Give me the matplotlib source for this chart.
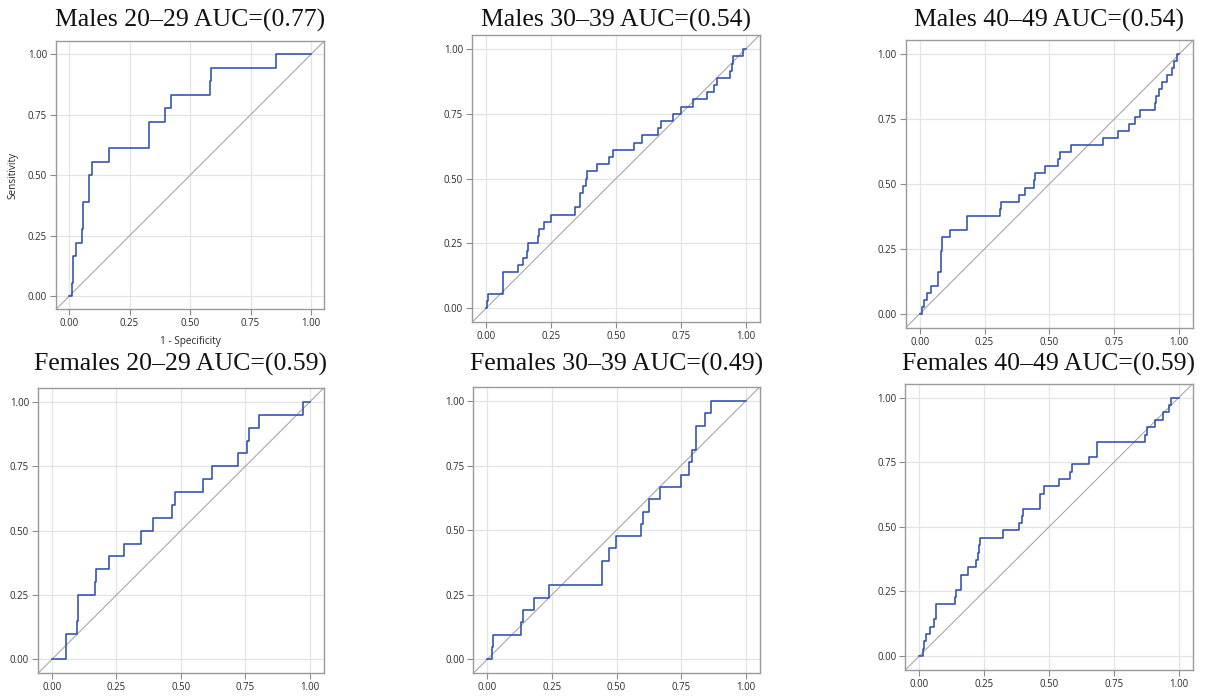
import matplotlib
matplotlib.use("Agg")
import matplotlib.pyplot as plt

# ---------------- data (ROC operating points: 1-specificity, sensitivity) -------------
titles = ["Males 20–29 AUC=(0.77)", "Males 30–39 AUC=(0.54)", "Males 40–49 AUC=(0.54)",
          "Females 20–29 AUC=(0.59)", "Females 30–39 AUC=(0.49)", "Females 40–49 AUC=(0.59)"]

fpr_m2029 = [0, 0.011, 0.017, 0.029, 0.052, 0.058, 0.084, 0.094, 0.165, 0.329, 0.398,
             0.421, 0.581, 0.587, 0.855, 1.0]
tpr_m2029 = [0, 0.056, 0.167, 0.222, 0.278, 0.389, 0.500, 0.556, 0.611, 0.722, 0.778,
             0.833, 0.889, 0.944, 1.0, 1.0]

fpr_m3039 = [0, 0.003, 0.006, 0.067, 0.125, 0.141, 0.157, 0.160, 0.200, 0.205, 0.223,
             0.250, 0.344, 0.363, 0.375, 0.385, 0.390, 0.426, 0.475, 0.488, 0.571,
             0.600, 0.661, 0.673, 0.719, 0.751, 0.796, 0.850, 0.878, 0.888, 0.940,
             0.946, 0.952, 0.991, 1.0]
tpr_m3039 = [0, 0.028, 0.056, 0.139, 0.167, 0.194, 0.222, 0.250, 0.278, 0.306, 0.333,
             0.361, 0.389, 0.444, 0.472, 0.500, 0.528, 0.556, 0.583, 0.611, 0.639,
             0.667, 0.694, 0.722, 0.750, 0.778, 0.806, 0.833, 0.861, 0.889, 0.917,
             0.944, 0.972, 1.0, 1.0]

fpr_m4049 = [0, 0.008, 0.018, 0.030, 0.042, 0.069, 0.084, 0.087, 0.117, 0.183, 0.311,
             0.315, 0.383, 0.405, 0.440, 0.446, 0.482, 0.535, 0.541, 0.582, 0.706,
             0.766, 0.808, 0.829, 0.848, 0.909, 0.912, 0.924, 0.934, 0.954, 0.974,
             0.982, 0.991, 1.0]
tpr_m4049 = [0, 0.027, 0.054, 0.081, 0.108, 0.162, 0.243, 0.297, 0.324, 0.378, 0.405,
             0.432, 0.459, 0.486, 0.514, 0.541, 0.568, 0.595, 0.622, 0.649, 0.676,
             0.703, 0.730, 0.757, 0.784, 0.811, 0.838, 0.865, 0.892, 0.919, 0.946,
             0.973, 1.0, 1.0]

fpr_f2029 = [0, 0.054, 0.096, 0.100, 0.167, 0.171, 0.221, 0.281, 0.344, 0.391, 0.467,
             0.477, 0.585, 0.622, 0.720, 0.758, 0.763, 0.802, 0.975, 1.0]
tpr_f2029 = [0, 0.10, 0.15, 0.25, 0.30, 0.35, 0.40, 0.45, 0.50, 0.55, 0.60,
             0.65, 0.70, 0.75, 0.80, 0.85, 0.90, 0.95, 1.0, 1.0]

fpr_f3039 = [0, 0.017, 0.023, 0.130, 0.137, 0.181, 0.240, 0.443, 0.471, 0.499, 0.594,
             0.601, 0.627, 0.668, 0.748, 0.779, 0.791, 0.808, 0.844, 0.865, 1.0]
tpr_f3039 = [0, 0.048, 0.095, 0.143, 0.190, 0.238, 0.286, 0.381, 0.429, 0.476, 0.524,
             0.571, 0.619, 0.667, 0.714, 0.762, 0.810, 0.905, 0.952, 1.0, 1.0]

fpr_f4049 = [0, 0.015, 0.019, 0.026, 0.041, 0.058, 0.063, 0.136, 0.141, 0.162, 0.189,
             0.219, 0.225, 0.229, 0.234, 0.324, 0.383, 0.395, 0.399, 0.465, 0.481,
             0.539, 0.581, 0.590, 0.654, 0.685, 0.871, 0.877, 0.907, 0.938, 0.963,
             0.970, 1.0]
tpr_f4049 = [0, 0.029, 0.057, 0.086, 0.114, 0.143, 0.200, 0.229, 0.257, 0.314, 0.343,
             0.371, 0.400, 0.429, 0.457, 0.486, 0.514, 0.543, 0.571, 0.629, 0.657,
             0.686, 0.714, 0.743, 0.771, 0.829, 0.857, 0.886, 0.914, 0.943, 0.971,
             1.0, 1.0]

ticks = [0.0, 0.25, 0.5, 0.75, 1.0]
tick_labels = ["0.00", "0.25", "0.50", "0.75", "1.00"]
xlabel = "1 - Specificity"
ylabel = "Sensitivity"

curves = [(fpr_m2029, tpr_m2029), (fpr_m3039, tpr_m3039), (fpr_m4049, tpr_m4049),
          (fpr_f2029, tpr_f2029), (fpr_f3039, tpr_f3039), (fpr_f4049, tpr_f4049)]

# ---------------- layout (pixel positions of data 0 and 1 on each panel) -------------
W, H = 1209, 696
boxes = [(69, 311, 296.3, 54.3), (486, 745.7, 308.3, 49), (919.7, 1179, 313.7, 54.3),
         (52, 309.7, 659.3, 402), (487.3, 745.7, 659.3, 401), (919.3, 1178.7, 656, 397.7)]
title_baselines = [27, 27, 27, 371, 371, 371]
m = 0.054

fig = plt.figure(figsize=(W / 100, H / 100), dpi=100)

for i, ((x0, x1, y0, y1), (fpr, tpr)) in enumerate(zip(boxes, curves)):
    ux = x1 - x0
    uy = y0 - y1
    left = x0 - m * ux
    bottom = y0 + m * uy
    ax = fig.add_axes([left / W, 1 - bottom / H, (1 + 2 * m) * ux / W, (1 + 2 * m) * uy / H])
    ax.set_xlim(-m, 1 + m)
    ax.set_ylim(-m, 1 + m)
    ax.set_xticks(ticks)
    ax.set_yticks(ticks)
    ax.set_xticklabels(tick_labels, family="Open Sans", fontsize=6.9, color="#2a2a2a")
    ax.set_yticklabels(tick_labels, family="Open Sans", fontsize=6.9, color="#2a2a2a")
    ax.tick_params(length=4, width=0.8, color="#8c8c8c", pad=2.5)
    ax.grid(True, color="#e4e4e4", linewidth=0.9)
    ax.set_axisbelow(True)
    for s in ax.spines.values():
        s.set_color("#9a9a9a")
        s.set_linewidth(1.0)
    ax.plot([-m, 1 + m], [-m, 1 + m], color="#a8a8a8", linewidth=0.8, zorder=2)
    ax.step(fpr, tpr, where="post", color="#2f4fb0", linewidth=1.15, zorder=3)
    if i == 0:
        ax.set_xlabel(xlabel, family="Open Sans", fontsize=7.2, color="#2a2a2a", labelpad=5)
        ax.set_ylabel(ylabel, family="Open Sans", fontsize=7.2, color="#2a2a2a", labelpad=7)
    cx = (left + left + (1 + 2 * m) * ux) / 2
    fig.text(cx / W, 1 - title_baselines[i] / H, titles[i], ha="center", va="baseline",
             family="Liberation Serif", fontsize=18.5, color="#111111")

fig.savefig("out.png", dpi=100)
